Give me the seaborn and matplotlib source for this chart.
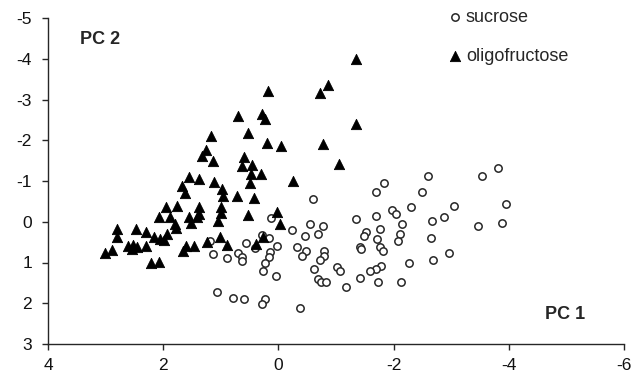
import matplotlib
matplotlib.use("Agg")
import matplotlib.pyplot as plt
import seaborn as sns
import pandas as pd

# ---- data (PC1, PC2) ----
sucrose_pc1 = [-0.60, -1.69, -1.84, -2.59, -2.50, -3.53, -3.81, -3.96, -3.04, -2.30,
               -1.98, -2.04, -1.35, -1.69, -2.15, -2.67, -2.87, -3.47, -3.88, 0.12,
               -0.23, -0.55, -0.77, -0.46, -0.69, -1.52, -1.49, -1.76, -1.71, -2.11,
               -2.08, -2.65, 1.18, 0.29, 0.16, 0.56, 0.02, 0.40, -0.33, -0.48,
               -0.41, -0.80, -0.80, -0.72, 0.15, 0.16, 0.23, 0.26, 0.04, 1.13,
               0.90, 0.71, 0.64, 0.64, -1.42, -1.43, -1.76, -1.81, -2.97, -2.68,
               -2.27, -1.78, -1.69, -1.59, -2.13, -1.73, -1.42, -1.17, -1.01, -1.07,
               -0.62, -0.69, -0.74, -0.83, 1.07, 0.78, 0.59, 0.23, 0.29, -0.38]
sucrose_pc2 = [-0.57, -0.74, -0.94, -1.12, -0.74, -1.12, -1.33, -0.43, -0.39, -0.35,
               -0.29, -0.18, -0.07, -0.15, 0.06, -0.01, -0.11, 0.10, 0.02, -0.10,
               0.20, 0.06, 0.10, 0.35, 0.30, 0.26, 0.35, 0.17, 0.42, 0.30,
               0.47, 0.41, 0.47, 0.33, 0.41, 0.51, 0.59, 0.65, 0.63, 0.72,
               0.83, 0.72, 0.83, 0.94, 0.74, 0.87, 1.00, 1.20, 1.32, 0.79,
               0.90, 0.77, 0.86, 0.96, 0.63, 0.67, 0.62, 0.73, 0.76, 0.93,
               1.00, 1.08, 1.17, 1.20, 1.49, 1.49, 1.38, 1.59, 1.10, 1.20,
               1.17, 1.40, 1.49, 1.49, 1.73, 1.86, 1.90, 1.89, 2.02, 2.11]

oligo_pc1 = [-1.35, -0.86, -0.72, 0.18, -1.35, 0.70, 0.28, 0.23, 0.52, 1.17,
             0.20, -0.04, -0.78, -1.06, 1.26, 1.33, 1.14, 0.60, 0.64, 0.45,
             0.48, 0.30, -0.25, 1.56, 1.38, 1.68, 1.62, 1.12, 0.98, 0.96,
             0.72, 0.49, 0.42, 1.95, 1.76, 1.37, 1.37, 0.99, 0.99, 1.04,
             2.07, 1.88, 1.80, 1.77, 1.56, 1.51, 1.42, 0.52, 0.02, -0.02,
             2.80, 2.80, 2.47, 2.30, 2.30, 2.16, 2.05, 1.99, 1.93, 3.01,
             2.89, 2.61, 2.53, 2.46, 2.55, 2.22, 2.08, 1.66, 1.60, 1.46,
             1.24, 1.01, 0.89, 0.39, 0.26]
oligo_pc2 = [-4.00, -3.35, -3.15, -3.21, -2.40, -2.60, -2.64, -2.51, -2.19, -2.10,
             -1.94, -1.86, -1.92, -1.42, -1.76, -1.61, -1.50, -1.58, -1.37, -1.39,
             -1.17, -1.17, -1.01, -1.09, -1.06, -0.88, -0.71, -0.97, -0.80, -0.63,
             -0.63, -0.94, -0.58, -0.35, -0.39, -0.35, -0.20, -0.35, -0.22, -0.03,
             -0.12, -0.12, 0.06, 0.16, -0.11, 0.02, -0.12, -0.17, -0.25, 0.06,
             0.19, 0.37, 0.19, 0.24, 0.60, 0.38, 0.43, 0.46, 0.30, 0.76,
             0.69, 0.60, 0.57, 0.61, 0.66, 1.02, 0.98, 0.73, 0.60, 0.60,
             0.49, 0.38, 0.57, 0.55, 0.37]

x_ticks = [4, 2, 0, -2, -4, -6]
y_ticks = [-5, -4, -3, -2, -1, 0, 1, 2, 3]
series_labels = ["sucrose", "oligofructose"]

sucrose_df = pd.DataFrame({"PC1": sucrose_pc1, "PC2": sucrose_pc2})
oligo_df = pd.DataFrame({"PC1": oligo_pc1, "PC2": oligo_pc2})

sns.set_style("ticks")
plt.rcParams["font.family"] = ["Liberation Sans", "DejaVu Sans"]

ink = "#262626"
fig, ax = plt.subplots(figsize=(6.38, 3.76), dpi=100)
fig.subplots_adjust(left=48/638, right=624/638, bottom=1-344/376, top=1-18/376)

sns.scatterplot(data=sucrose_df, x="PC1", y="PC2", marker="o", s=28,
                facecolor="white", edgecolor=ink, linewidth=1.1,
                label=series_labels[0], ax=ax, zorder=2)
sns.scatterplot(data=oligo_df, x="PC1", y="PC2", marker="^", s=55,
                facecolor="black", edgecolor="black", linewidth=0.6,
                label=series_labels[1], ax=ax, zorder=3)
ax.collections[0].set_facecolor("white")
ax.collections[0].set_edgecolor(ink)
ax.collections[1].set_facecolor("black")

ax.set_xlim(4, -6)
ax.set_ylim(3, -5)
ax.set_xticks(x_ticks)
ax.set_yticks(y_ticks)
ax.set_xticklabels([str(v) for v in x_ticks])
ax.set_yticklabels([str(v) for v in y_ticks])
ax.set_xlabel("")
ax.set_ylabel("")
sns.despine(ax=ax)
for sp in ("left", "bottom"):
    ax.spines[sp].set_color(ink)
    ax.spines[sp].set_linewidth(1.0)
ax.tick_params(axis="both", direction="out", length=4.5, width=1.0, color=ink,
               labelsize=12.5, labelcolor="#111111")
ax.tick_params(axis="y", pad=7)
ax.tick_params(axis="x", pad=5.5)

ax.text(0.056, 0.933, "PC 2", transform=ax.transAxes, fontsize=13,
        fontweight="bold", ha="left", va="center")
ax.text(0.862, 0.092, "PC 1", transform=ax.transAxes, fontsize=13,
        fontweight="bold", ha="left", va="center")

leg = ax.legend(loc="center left", bbox_to_anchor=(0.691, 0.942), frameon=False,
                fontsize=13, handlelength=1.0, handletextpad=0.1,
                labelspacing=1.2, borderpad=0, borderaxespad=0, scatterpoints=1)

fig.savefig("out.png", dpi=100)
